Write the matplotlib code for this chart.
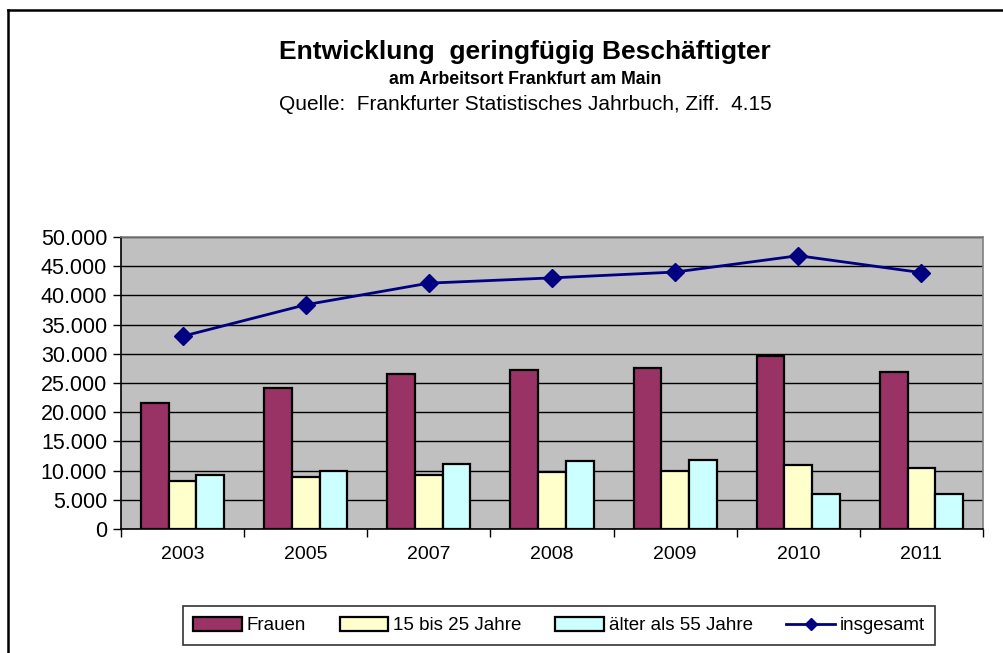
import matplotlib
matplotlib.use("Agg")
import matplotlib.pyplot as plt
import numpy as np
from matplotlib.lines import Line2D
from matplotlib.ticker import FuncFormatter

plt.rcParams['font.family'] = ['Liberation Sans', 'DejaVu Sans']

years = ["2003", "2005", "2007", "2008", "2009", "2010", "2011"]
frauen = [21500, 24200, 26500, 27200, 27500, 29700, 26900]
jung = [8300, 8900, 9200, 9700, 10000, 10900, 10400]
alt = [9200, 10000, 11200, 11700, 11900, 6000, 6000]
insgesamt = [33000, 38400, 42100, 43000, 44000, 46800, 43900]
series_names = ["Frauen", "15 bis 25 Jahre", "älter als 55 Jahre", "insgesamt"]
yticks = [0, 5000, 10000, 15000, 20000, 25000, 30000, 35000, 40000, 45000, 50000]

W, H = 1004, 653
fig = plt.figure(figsize=(W / 100, H / 100), dpi=100)
fig.patch.set_facecolor("white")

# chart border (top & left visible)
fig.add_artist(Line2D([8 / W, 1.0], [1 - 10 / H, 1 - 10 / H], color="black", lw=1.8, transform=fig.transFigure))
fig.add_artist(Line2D([8 / W, 8 / W], [0, 1 - 10 / H], color="black", lw=1.8, transform=fig.transFigure))

ax = fig.add_axes([121 / W, 1 - 529 / H, (983 - 121) / W, (529 - 237) / H])
ax.set_facecolor("#C0C0C0")

x = np.arange(len(years))
bw = 0.225
colors = ["#993366", "#FFFFCC", "#CCFFFF"]
bars = []
for i, (vals, c, name) in enumerate(zip([frauen, jung, alt], colors, series_names[:3])):
    b = ax.bar(x + (i - 1) * bw, vals, width=bw, color=c, edgecolor="black", linewidth=1.6,
               label=name, zorder=3)
    bars.append(b)
ln, = ax.plot(x, insgesamt, color="#000080", lw=2, marker="D", markersize=9, label=series_names[3], zorder=4)

ax.set_xlim(-0.5, len(years) - 0.5)
ax.set_ylim(0, 50000)
ax.set_yticks(yticks)
ax.yaxis.set_major_formatter(FuncFormatter(lambda v, p: f"{int(v):,}".replace(",", ".")))
ax.grid(axis="y", color="black", lw=1.0, zorder=1)
ax.set_axisbelow(True)

ax.set_xticks(x)
ax.set_xticklabels(years)
ax.set_xticks(np.arange(-0.5, len(years) + 0.5, 1), minor=True)
ax.tick_params(axis="x", which="major", length=0, pad=12, labelsize=14)
ax.tick_params(axis="x", which="minor", length=6, width=1, direction="out")
ax.tick_params(axis="y", length=6, width=1, direction="out", labelsize=15.5, pad=4)

for s in ["top", "right"]:
    ax.spines[s].set_color("#808080")
    ax.spines[s].set_linewidth(1.2)
for s in ["left", "bottom"]:
    ax.spines[s].set_color("black")
    ax.spines[s].set_linewidth(1.2)

fig.text(525 / W, 1 - 52 / H, "Entwicklung  geringfügig Beschäftigter", ha="center", va="center",
         fontsize=19, fontweight="bold")
fig.text(525 / W, 1 - 79 / H, "am Arbeitsort Frankfurt am Main", ha="center", va="center",
         fontsize=12.7, fontweight="bold")
fig.text(525 / W, 1 - 104 / H, "Quelle:  Frankfurter Statistisches Jahrbuch, Ziff.  4.15", ha="center",
         va="center", fontsize=15)

handles = [b for b in bars] + [ln]
leg = fig.legend(handles, series_names, loc="center", bbox_to_anchor=(559 / W, 1 - 625.5 / H), ncol=4,
                 frameon=True, fancybox=False, shadow=False, fontsize=13.5, handlelength=2.6,
                 handleheight=0.8, handletextpad=0.25, columnspacing=1.8, borderpad=0.55)
leg.get_frame().set_edgecolor("black")
leg.get_frame().set_linewidth(1.2)
leg.legend_handles[3].set_markersize(6)

fig.savefig("out.png", dpi=100, facecolor="white")
